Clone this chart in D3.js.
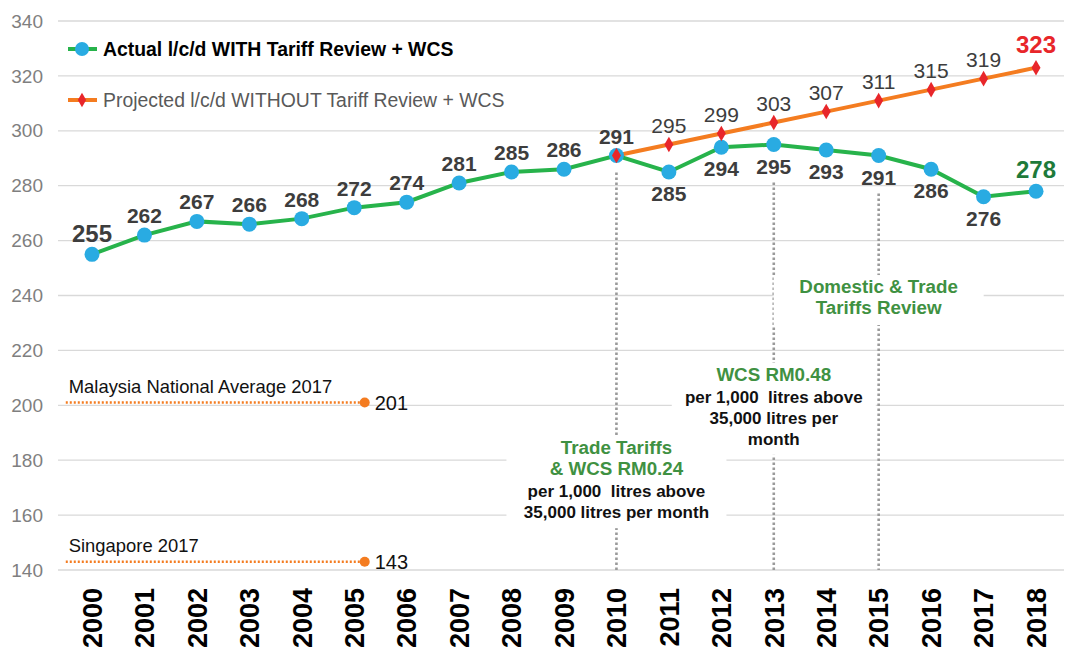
<!DOCTYPE html>
<html><head><meta charset="utf-8">
<script src="https://cdn.jsdelivr.net/npm/d3@7"></script>
<style>body{margin:0;background:#fff}svg{display:block;font-family:Arial,"Liberation Sans",sans-serif}</style>
</head><body><svg id="c" width="1069" height="655"></svg>
<script>
const years = [2000,2001,2002,2003,2004,2005,2006,2007,2008,2009,2010,2011,2012,2013,2014,2015,2016,2017,2018];
const actual = [255,262,267,266,268,272,274,281,285,286,291,285,294,295,293,291,286,276,278];
const projYears = [2010,2011,2012,2013,2014,2015,2016,2017,2018];
const projected = [291,295,299,303,307,311,315,319,323];
const yTicks = [140,160,180,200,220,240,260,280,300,320,340];
const refLines = [
  {label:"Malaysia National Average 2017", value:201, from:1999.5, to:2005.2},
  {label:"Singapore 2017", value:143, from:1999.5, to:2005.2}
];
const markerYears = [2010,2013,2015];
const annotations = [
  {year:2010, value:187.3, green:["Trade Tariffs","& WCS RM0.24"], black:["per 1,000  litres above","35,000 litres per month"]},
  {year:2013, value:214, green:["WCS RM0.48"], black:["per 1,000  litres above","35,000 litres per","month"]},
  {year:2015, value:246, green:["Domestic & Trade","Tariffs Review"], black:[]}
];

const svg = d3.select("#c");
const x = d3.scaleLinear().domain([2000,2018]).range([92,1036]);
const y = d3.scaleLinear().domain([140,340]).range([570,21]);
const labelAbove = yr => yr<=2010 || yr===2018;

// gridlines
svg.append("g").selectAll("line").data(yTicks).join("line")
  .attr("x1",58).attr("x2",1064).attr("y1",d=>y(d)).attr("y2",d=>y(d))
  .attr("stroke","#d9d9d9").attr("stroke-width",1.3);
// y labels
svg.append("g").selectAll("text").data(yTicks).join("text")
  .attr("x",43).attr("y",d=>y(d)).attr("dy","0.35em").attr("text-anchor","end")
  .attr("fill","#7f7f7f").attr("font-size",19).text(d=>d);
// x labels
svg.append("g").selectAll("text").data(years).join("text")
  .attr("transform",d=>`translate(${x(d)},588) rotate(-90)`)
  .attr("dy","0.36em").attr("text-anchor","end").attr("font-weight","bold")
  .attr("font-size",27).attr("fill","#000").text(d=>d);

// vertical dotted markers
svg.append("g").selectAll("line").data(markerYears).join("line")
  .attr("x1",d=>x(d)).attr("x2",d=>x(d))
  .attr("y1",d=>y(actual[years.indexOf(d)]) + (labelAbove(d)?17:38)).attr("y2",y(140))
  .attr("stroke","#9a9a9a").attr("stroke-width",2.6).attr("stroke-dasharray","2.5,2.5");

// annotation boxes
const ann = svg.append("g");
annotations.forEach(a=>{
  const lines = a.green.length + a.black.length;
  const cx = x(a.year), top = y(a.value);
  const h = lines*21 + 8;
  const w = a.year===2010 ? 220 : (a.year===2013 ? 204 : 210);
  ann.append("rect").attr("x",cx-w/2).attr("y",top-4).attr("width",w).attr("height",h).attr("fill","#fff");
  let yy = top + 14;
  a.green.forEach(t=>{ann.append("text").attr("x",cx).attr("y",yy).attr("text-anchor","middle")
    .attr("font-weight","bold").attr("font-size",18.8).attr("fill","#3f9142").text(t); yy+=21;});
  a.black.forEach(t=>{ann.append("text").attr("x",cx).attr("y",yy+1).attr("text-anchor","middle")
    .attr("font-weight","bold").attr("font-size",17).attr("fill","#111").style("white-space","pre").text(t); yy+=21;});
});

// reference lines
const ref = svg.append("g");
refLines.forEach(r=>{
  ref.append("line").attr("x1",x(r.from)).attr("x2",x(r.to)).attr("y1",y(r.value)).attr("y2",y(r.value))
    .attr("stroke","#f47c20").attr("stroke-width",2.5).attr("stroke-dasharray","2,2");
  ref.append("circle").attr("cx",x(r.to)).attr("cy",y(r.value)).attr("r",5).attr("fill","#f47c20");
  ref.append("text").attr("x",x(r.to)+10).attr("y",y(r.value)).attr("dy","0.36em").attr("font-size",20).attr("fill","#111").text(r.value);
  ref.append("text").attr("x",x(r.from)+3).attr("y",y(r.value)-10).attr("font-size",18.4).attr("fill","#111").text(r.label);
});

// projected line
const projData = projYears.map((d,i)=>({year:d,v:projected[i]}));
svg.append("path").datum(projData).attr("fill","none").attr("stroke","#f47c20").attr("stroke-width",4)
  .attr("d",d3.line().x(d=>x(d.year)).y(d=>y(d.v)));
// actual line
const actData = years.map((d,i)=>({year:d,v:actual[i]}));
svg.append("path").datum(actData).attr("fill","none").attr("stroke","#27b34b").attr("stroke-width",4)
  .attr("d",d3.line().x(d=>x(d.year)).y(d=>y(d.v)));
svg.append("g").selectAll("circle").data(actData).join("circle")
  .attr("cx",d=>x(d.year)).attr("cy",d=>y(d.v)).attr("r",7.5).attr("fill","#29abe2");
svg.append("g").selectAll("path").data(projData).join("path")
  .attr("transform",d=>`translate(${x(d.year)},${y(d.v)})`)
  .attr("d",d3.symbol(d3.symbolDiamond,70)).attr("fill","#e8262a");

// actual labels
svg.append("g").selectAll("text").data(actData).join("text")
  .attr("x",d=>x(d.year))
  .attr("y",d=>y(d.v) + (labelAbove(d.year) ? (d.year===2018?-13:-12) : 29))
  .attr("text-anchor","middle").attr("font-weight","bold")
  .attr("font-size",d=>d.year===2018||d.year===2000?24:21)
  .attr("fill",d=>d.year===2018?"#1e7a3a":"#3d3d3d").text(d=>d.v);
// projected labels
svg.append("g").selectAll("text").data(projData.filter(d=>d.year>2010)).join("text")
  .attr("x",d=>x(d.year)).attr("y",d=>y(d.v)-(d.year===2018?15:12))
  .attr("text-anchor","middle").attr("font-weight",d=>d.year===2018?"bold":"normal")
  .attr("font-size",d=>d.year===2018?24:21)
  .attr("fill",d=>d.year===2018?"#e8262a":"#3d3d3d").text(d=>d.v);

// legend
const lg = svg.append("g");
const legendItems = [
  {text:"Actual l/c/d WITH Tariff Review + WCS", line:"#27b34b", mark:"circle", col:"#29abe2", bold:true, tc:"#000", yy:49},
  {text:"Projected l/c/d WITHOUT Tariff Review + WCS", line:"#f47c20", mark:"diamond", col:"#e8262a", bold:false, tc:"#595959", yy:100}
];
legendItems.forEach(l=>{
  lg.append("line").attr("x1",68).attr("x2",97).attr("y1",l.yy).attr("y2",l.yy).attr("stroke",l.line).attr("stroke-width",4);
  if(l.mark==="circle") lg.append("circle").attr("cx",82).attr("cy",l.yy).attr("r",7).attr("fill",l.col);
  else lg.append("path").attr("transform",`translate(82,${l.yy})`).attr("d",d3.symbol(d3.symbolDiamond,60)).attr("fill",l.col);
  lg.append("text").attr("x",103).attr("y",l.yy).attr("dy","0.36em").attr("font-size",19.4)
    .attr("font-weight",l.bold?"bold":"normal").attr("fill",l.tc).text(l.text);
});
</script></body></html>
